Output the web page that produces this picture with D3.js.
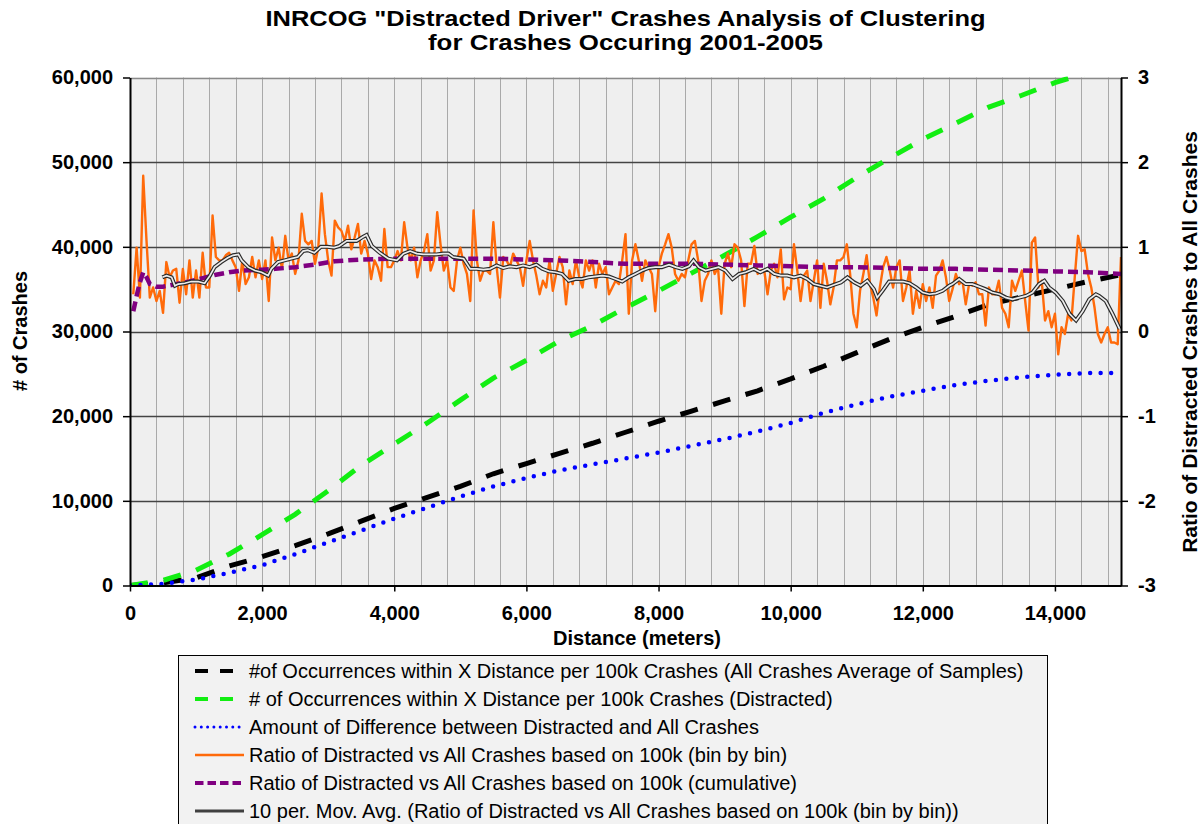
<!DOCTYPE html>
<html lang="en">
<meta charset="utf-8">
<title>INRCOG Distracted Driver Crashes</title>
<head>
<style>
  body { margin: 0; background: #fff; }
  text { font-family: "Liberation Sans", Arial, sans-serif; }
</style>
</head>
<body>
  <script src="https://cdnjs.cloudflare.com/ajax/libs/d3/7.8.5/d3.min.js"></script>
  <div id="chart"></div>
  <script>

    // ---- data ----
    // bin-by-bin ratio (right axis), one value per 50 m bin, 50 .. 15000
    var ratioBins = [
      0.44, 0.99, 0.40, 1.84, 1.07, 0.40, 0.52, 0.36, 0.48, 0.22,
      0.82, 0.64, 0.72, 0.74, 0.34, 0.74, 0.44, 0.84, 0.40, 0.72,
      0.40, 0.93, 0.52, 0.52, 1.37, 0.88, 0.84, 0.84, 0.90, 0.93,
      0.84, 0.76, 0.48, 0.84, 0.56, 0.64, 0.88, 0.64, 0.84, 0.62,
      0.84, 0.36, 1.11, 0.84, 0.99, 0.74, 1.13, 0.84, 0.92, 0.68,
      0.84, 1.39, 1.07, 1.03, 1.07, 0.80, 0.99, 1.63, 1.15, 0.84,
      0.66, 1.31, 1.23,
      1.19, 1.07, 1.25, 0.97, 1.11, 1.27, 0.92, 1.07, 0.92, 0.62,
      0.84, 0.76, 0.60, 1.21, 0.76, 0.76, 0.84, 0.95, 0.84, 1.29,
      0.99, 0.84, 0.99, 0.64, 0.84, 0.95, 1.15, 0.72, 0.84, 1.41,
      1.03, 0.72, 0.84, 0.52, 0.48, 0.84, 0.99, 0.80, 0.68, 0.36,
      1.43, 0.84, 0.60, 0.72, 0.72, 0.68, 1.29, 0.76, 0.40, 0.88,
      0.84, 0.76, 0.92, 0.84, 0.76, 0.54, 0.84, 1.07, 0.84, 0.66,
      0.44,
      0.60, 0.52, 0.84, 0.48, 0.68, 0.88, 0.76, 0.32, 0.72, 0.56,
      0.84, 0.64, 0.52, 0.84, 0.72, 0.84, 0.52, 0.80, 0.68, 0.76,
      0.44, 0.52, 0.60, 0.56, 0.84, 1.15, 0.21, 0.84, 1.03, 0.84,
      0.60, 0.84, 0.76, 0.68, 0.24, 0.76, 0.92, 1.03, 1.15, 0.99,
      0.68, 0.60, 0.68, 0.64, 0.84, 1.03, 1.07, 0.84, 0.36, 0.60,
      0.68, 0.84, 0.68, 0.76, 0.21, 0.80, 0.92, 0.76, 1.03, 0.99,
      0.84, 0.30, 0.80,
      0.80, 1.01, 0.68, 0.72, 0.72, 0.44, 0.72, 0.80, 0.64, 0.97,
      0.38, 0.52, 0.50, 1.03, 0.72, 0.36, 0.66, 0.72, 0.36, 0.60,
      0.84, 0.28, 0.80, 0.60, 0.32, 0.52, 0.84, 0.84, 0.88, 1.03,
      0.68, 0.21, 0.05, 0.48, 0.68, 0.90, 0.56, 0.40, 0.19, 0.52,
      0.76, 0.88, 0.72, 0.52, 0.76, 0.84, 0.36, 0.52, 0.72, 0.21,
      0.48, 0.28, 0.56, 0.36, 0.52, 0.28, 0.66, 0.72, 0.84, 0.64,
      0.36, 0.50, 0.68,
      0.56, 0.60, 0.32, 0.56, 0.54, 0.58, 0.44, 0.44, 0.07, 0.52,
      0.44, 0.44, 0.60, 0.28, 0.21, 0.05, 0.60, 0.48, 0.60, 0.72,
      0.36, 0.01, 1.05, 1.11, 0.52, 0.60, 0.13, 0.24, 0.05, 0.21,
      -0.27, 0.05, -0.03, 0.21, 0.13, 0.64, 1.13, 0.95, 0.97, 0.68,
      0.52, 0.28, -0.03, -0.13, -0.03, 0.05, -0.13, -0.13, -0.15, 0.88
    ];
    var binWidth = 50;

    // 10 per. moving average (right axis): [distance, ratio]
    var movingAvg = [
      [490, 0.64], [553, 0.66], [630, 0.64], [680, 0.54], [730, 0.56], [830, 0.57], [930, 0.59],
      [1030, 0.59], [1130, 0.57], [1210, 0.66], [1280, 0.76], [1380, 0.82], [1480, 0.87], [1560, 0.90],
      [1640, 0.91], [1690, 0.84], [1790, 0.76], [1890, 0.72], [1990, 0.70], [2090, 0.66], [2140, 0.74],
      [2240, 0.82], [2340, 0.84], [2440, 0.86], [2540, 0.88], [2620, 0.95], [2690, 0.96], [2790, 0.93],
      [2890, 1.00], [2990, 1.00], [3090, 0.99], [3170, 1.01], [3280, 1.07], [3430, 1.07], [3530, 1.12],
      [3580, 1.14], [3660, 1.01], [3780, 0.93], [3910, 0.86], [4040, 0.84], [4140, 0.92], [4240, 0.95],
      [4340, 0.92], [4440, 0.91], [4540, 0.91], [4640, 0.91], [4740, 0.92], [4820, 0.92], [4890, 0.88],
      [5050, 0.86], [5150, 0.74], [5250, 0.74], [5350, 0.73], [5450, 0.74], [5550, 0.78], [5650, 0.75],
      [5750, 0.77], [5850, 0.76], [5950, 0.78], [6050, 0.76], [6150, 0.79], [6240, 0.74], [6340, 0.71],
      [6440, 0.70], [6540, 0.68], [6640, 0.60], [6740, 0.62], [6840, 0.62], [6940, 0.64], [7050, 0.65],
      [7150, 0.66], [7250, 0.65], [7350, 0.62], [7450, 0.59], [7550, 0.64], [7650, 0.68], [7750, 0.72],
      [7850, 0.75], [7950, 0.76], [8050, 0.76], [8160, 0.79], [8260, 0.76], [8360, 0.74], [8460, 0.77],
      [8530, 0.84], [8610, 0.76], [8710, 0.72], [8810, 0.74], [8910, 0.76], [9010, 0.72], [9120, 0.62],
      [9220, 0.68], [9320, 0.70], [9440, 0.74], [9540, 0.70], [9650, 0.74], [9750, 0.68], [9850, 0.66],
      [9950, 0.66], [10050, 0.64], [10150, 0.66], [10250, 0.62], [10350, 0.56], [10450, 0.54],
      [10550, 0.52], [10650, 0.55], [10760, 0.58], [10860, 0.64], [10960, 0.58], [11060, 0.54],
      [11160, 0.60], [11260, 0.50], [11310, 0.40], [11390, 0.48], [11490, 0.59], [11600, 0.59],
      [11700, 0.59], [11800, 0.57], [11900, 0.52], [12000, 0.46], [12100, 0.44], [12200, 0.45],
      [12300, 0.48], [12400, 0.54], [12450, 0.56], [12550, 0.62], [12650, 0.56], [12750, 0.56],
      [12850, 0.53], [12950, 0.50], [13050, 0.46], [13160, 0.44], [13260, 0.40], [13360, 0.38],
      [13460, 0.40], [13560, 0.42], [13660, 0.46], [13760, 0.56], [13840, 0.60], [13910, 0.52],
      [14010, 0.46], [14120, 0.36], [14220, 0.21], [14320, 0.13], [14420, 0.24], [14520, 0.38],
      [14620, 0.44], [14670, 0.42], [14770, 0.36], [14870, 0.21], [14980, 0.03]
    ];

    // cumulative ratio (right axis)
    var cumRatio = [
      [50, 0.24], [100, 0.42], [150, 0.58], [200, 0.70], [250, 0.64], [300, 0.56], [400, 0.53],
      [500, 0.53], [700, 0.56], [900, 0.59], [1100, 0.63], [1300, 0.67], [1500, 0.70], [1700, 0.72],
      [2000, 0.73], [2200, 0.74], [2500, 0.76], [2800, 0.79], [3100, 0.83], [3500, 0.85], [4000, 0.86],
      [4500, 0.86], [5000, 0.86], [5500, 0.86], [6000, 0.85], [6500, 0.84], [7000, 0.82], [7500, 0.80],
      [8000, 0.80], [8500, 0.80], [9000, 0.79], [9500, 0.78], [10000, 0.77], [10500, 0.76],
      [11000, 0.76], [11500, 0.75], [12000, 0.74], [12500, 0.74], [13000, 0.73], [13500, 0.72],
      [14000, 0.71], [14500, 0.70], [15000, 0.68]
    ];

    // occurrences per 100k crashes, all crashes (left axis)
    var allCrashes = [
      [0, 0], [500, 300], [1000, 900], [1500, 2300], [2000, 3400], [2500, 4700], [3000, 6100],
      [3500, 7600], [4000, 9100], [4500, 10400], [5000, 11700], [5500, 13200], [6000, 14400],
      [6500, 15600], [7000, 16800], [7500, 18100], [8000, 19400], [8500, 20600], [9000, 21800],
      [9500, 23000], [10000, 24400], [10500, 25900], [11000, 27500], [11500, 29100], [12000, 30500],
      [12500, 31800], [13000, 33200], [13500, 34100], [14000, 35000], [14500, 35900], [15000, 36700]
    ];

    // occurrences per 100k crashes, distracted (left axis)
    var distracted = [
      [0, 0], [500, 600], [1000, 1800], [1500, 3700], [2000, 6000], [2500, 8400], [3000, 11200],
      [3500, 14200], [4000, 16700], [4500, 19200], [5000, 21900], [5500, 24500], [6000, 26600],
      [6500, 28900], [7000, 30700], [7500, 32800], [8000, 34800], [8500, 36900], [9000, 39000],
      [9500, 41200], [10000, 43500], [10500, 45700], [11000, 48200], [11500, 50500], [12000, 52700],
      [12500, 54600], [13000, 56500], [13500, 57900], [14000, 59400], [14500, 60600], [15000, 61800]
    ];

    // difference between distracted and all crashes (left axis)
    var difference = [
      [0, 0], [500, 200], [1000, 700], [1500, 1500], [2000, 2400], [2500, 3700], [3000, 5100],
      [3500, 6500], [4000, 7900], [4500, 9200], [5000, 10500], [5500, 11700], [6000, 12700],
      [6500, 13600], [7000, 14300], [7500, 15000], [8000, 15700], [8500, 16500], [9000, 17300],
      [9500, 18200], [10000, 19200], [10500, 20400], [11000, 21400], [11500, 22300], [12000, 23000],
      [12500, 23700], [13000, 24200], [13500, 24600], [14000, 24900], [14500, 25100], [15000, 25100]
    ];

    var xTicks = [0, 2000, 4000, 6000, 8000, 10000, 12000, 14000];
    var xGrid = d3.range(400, 15000, 400);
    var leftTicks = [0, 10000, 20000, 30000, 40000, 50000, 60000];
    var rightTicks = [-3, -2, -1, 0, 1, 2, 3];

    var titleLines = ['INRCOG "Distracted Driver" Crashes Analysis of Clustering',
      'for Crashes Occuring 2001-2005'];
    var legendLabels = [
      "#of Occurrences within X Distance per 100k Crashes (All Crashes Average of Samples)",
      "# of Occurrences within X Distance per 100k Crashes (Distracted)",
      "Amount of Difference between Distracted and All Crashes",
      "Ratio of Distracted vs All Crashes based on 100k (bin by bin)",
      "Ratio of Distracted vs All Crashes based on 100k (cumulative)",
      "10 per. Mov. Avg. (Ratio of Distracted vs All Crashes based on 100k (bin by bin))"
    ];

    // ---- layout ----
    var W = 1203, H = 824;
    var plot = { left: 130, right: 1121, top: 77.5, bottom: 585.5 };

    var svg = d3.select("#chart").append("svg")
      .attr("width", W).attr("height", H)
      .style("display", "block");

    var x = d3.scaleLinear().domain([0, 15000]).range([plot.left, plot.right]);
    var yL = d3.scaleLinear().domain([0, 60000]).range([plot.bottom, plot.top]);
    var yR = d3.scaleLinear().domain([-3, 3]).range([plot.bottom, plot.top]);

    // title
    svg.selectAll(".title").data(titleLines).enter().append("text")
      .attr("x", 625.5)
      .attr("y", function (d, i) { return 26 + i * 24; })
      .attr("text-anchor", "middle")
      .attr("font-size", 22).attr("font-weight", "bold")
      .attr("textLength", function (d, i) { return i == 0 ? 720 : 395; })
      .attr("lengthAdjust", "spacingAndGlyphs")
      .text(function (d) { return d; });

    // plot background
    svg.append("rect")
      .attr("x", plot.left).attr("y", plot.top)
      .attr("width", plot.right - plot.left).attr("height", plot.bottom - plot.top)
      .attr("fill", "#efefef");

    // vertical grid
    svg.append("g").selectAll("line").data(xGrid).enter().append("line")
      .attr("x1", function (d) { return Math.round(x(d)) + 0.5; })
      .attr("x2", function (d) { return Math.round(x(d)) + 0.5; })
      .attr("y1", plot.top).attr("y2", plot.bottom)
      .attr("stroke", "#a9a9a9").attr("stroke-width", 1);

    // horizontal grid
    svg.append("g").selectAll("line").data(leftTicks.slice(1)).enter().append("line")
      .attr("x1", plot.left).attr("x2", plot.right)
      .attr("y1", function (d) { return Math.round(yL(d)) + 0.5; })
      .attr("y2", function (d) { return Math.round(yL(d)) + 0.5; })
      .attr("stroke", function (d) { return d == 60000 ? "#8a8a8a" : "#444"; })
      .attr("stroke-width", 1.3);

    // clip for series
    svg.append("clipPath").attr("id", "plotClip").append("rect")
      .attr("x", plot.left).attr("y", plot.top - 1)
      .attr("width", plot.right - plot.left).attr("height", plot.bottom - plot.top + 1);

    var series = svg.append("g").attr("clip-path", "url(#plotClip)");

    var lineL = d3.line().x(function (d) { return x(d[0]); }).y(function (d) { return yL(d[1]); });
    var lineR = d3.line().x(function (d) { return x(d[0]); }).y(function (d) { return yR(d[1]); });

    series.append("path").datum(allCrashes)
      .attr("d", lineL).attr("fill", "none")
      .attr("stroke", "#000").attr("stroke-width", 5)
      .attr("stroke-dasharray", "18,16");

    series.append("path").datum(distracted)
      .attr("d", lineL).attr("fill", "none")
      .attr("stroke", "#12ee12").attr("stroke-width", 5)
      .attr("stroke-dasharray", "18,16");

    series.append("path").datum(difference)
      .attr("d", lineL).attr("fill", "none")
      .attr("stroke", "#0000ff").attr("stroke-width", 4.5)
      .attr("stroke-linecap", "round")
      .attr("stroke-dasharray", "0,10.5");

    var ratioPts = ratioBins.map(function (v, i) { return [(i + 1) * binWidth, v]; });
    series.append("path").datum(ratioPts)
      .attr("d", lineR).attr("fill", "none")
      .attr("stroke", "#ff6a0a").attr("stroke-width", 2.4)
      .attr("stroke-linejoin", "round");

    series.append("path").datum(cumRatio)
      .attr("d", lineR).attr("fill", "none")
      .attr("stroke", "#800080").attr("stroke-width", 4.5)
      .attr("stroke-dasharray", "10,5");

    series.append("path").datum(movingAvg)
      .attr("d", lineR).attr("fill", "none")
      .attr("stroke", "#2a2a2a").attr("stroke-width", 4);
    series.append("path").datum(movingAvg)
      .attr("d", lineR).attr("fill", "none")
      .attr("stroke", "#ececec").attr("stroke-width", 1.7);

    // axes
    function styleAxis(g) {
      g.selectAll("text").attr("font-size", 20).attr("font-weight", "bold")
        .attr("fill", "#000").attr("font-family", '"Liberation Sans", Arial, sans-serif');
      g.selectAll(".tick line").attr("stroke", "#000").attr("stroke-width", 1.5);
      g.select(".domain").attr("stroke", "#000").attr("stroke-width", 2);
    }

    svg.append("g")
      .attr("transform", "translate(0," + plot.bottom + ")")
      .call(d3.axisBottom(x).tickValues(xTicks).tickSize(6).tickSizeOuter(0)
        .tickPadding(14).tickFormat(d3.format(",")))
      .call(styleAxis);

    svg.append("g")
      .attr("transform", "translate(" + plot.left + ",0)")
      .call(d3.axisLeft(yL).tickValues(leftTicks).tickSize(7).tickSizeOuter(0)
        .tickPadding(10).tickFormat(d3.format(",")))
      .call(styleAxis);

    svg.append("g")
      .attr("transform", "translate(" + plot.right + ",0)")
      .call(d3.axisRight(yR).tickValues(rightTicks).tickSize(7).tickSizeOuter(0)
        .tickPadding(10).tickFormat(function (d) { return String(d); }))
      .call(styleAxis);

    // axis titles
    svg.append("text")
      .attr("transform", "translate(27,331) rotate(-90)")
      .attr("text-anchor", "middle")
      .attr("font-size", 20).attr("font-weight", "bold")
      .text("# of Crashes");

    svg.append("text")
      .attr("transform", "translate(1197,342) rotate(-90)")
      .attr("text-anchor", "middle")
      .attr("font-size", 21).attr("font-weight", "bold")
      .text("Ratio of Distracted Crashes to All Crashes");

    svg.append("text")
      .attr("x", 637).attr("y", 645)
      .attr("text-anchor", "middle")
      .attr("font-size", 20).attr("font-weight", "bold")
      .text("Distance (meters)");

    // legend
    var legend = svg.append("g");
    legend.append("rect")
      .attr("x", 178.5).attr("y", 655.5)
      .attr("width", 869).attr("height", 190)
      .attr("fill", "#f2f2f2").attr("stroke", "#000").attr("stroke-width", 1);

    var legendStyles = [
      { stroke: "#000", width: 4, dash: "13,12", x2: 233, cap: "butt" },
      { stroke: "#12ee12", width: 4, dash: "13,12", x2: 233, cap: "butt" },
      { stroke: "#0000ff", width: 3, dash: "0,6.3", x2: 243, cap: "round" },
      { stroke: "#ff6a0a", width: 2.5, dash: null, x2: 244, cap: "butt" },
      { stroke: "#800080", width: 4, dash: "8.5,4", x2: 244, cap: "butt" },
      { stroke: "#404040", width: 3, dash: null, x2: 244, cap: "butt" }
    ];

    var rows = legend.selectAll(".row").data(legendLabels).enter().append("g")
      .attr("transform", function (d, i) { return "translate(0," + (671 + i * 28) + ")"; });

    rows.append("line")
      .attr("x1", 195).attr("x2", function (d, i) { return legendStyles[i].x2; })
      .attr("y1", 0).attr("y2", 0)
      .attr("stroke", function (d, i) { return legendStyles[i].stroke; })
      .attr("stroke-width", function (d, i) { return legendStyles[i].width; })
      .attr("stroke-linecap", function (d, i) { return legendStyles[i].cap; })
      .attr("stroke-dasharray", function (d, i) { return legendStyles[i].dash; });

    rows.append("text")
      .attr("x", 249).attr("y", 7)
      .attr("font-size", 20)
      .text(function (d) { return d; });

  </script>
</body>
</html>
